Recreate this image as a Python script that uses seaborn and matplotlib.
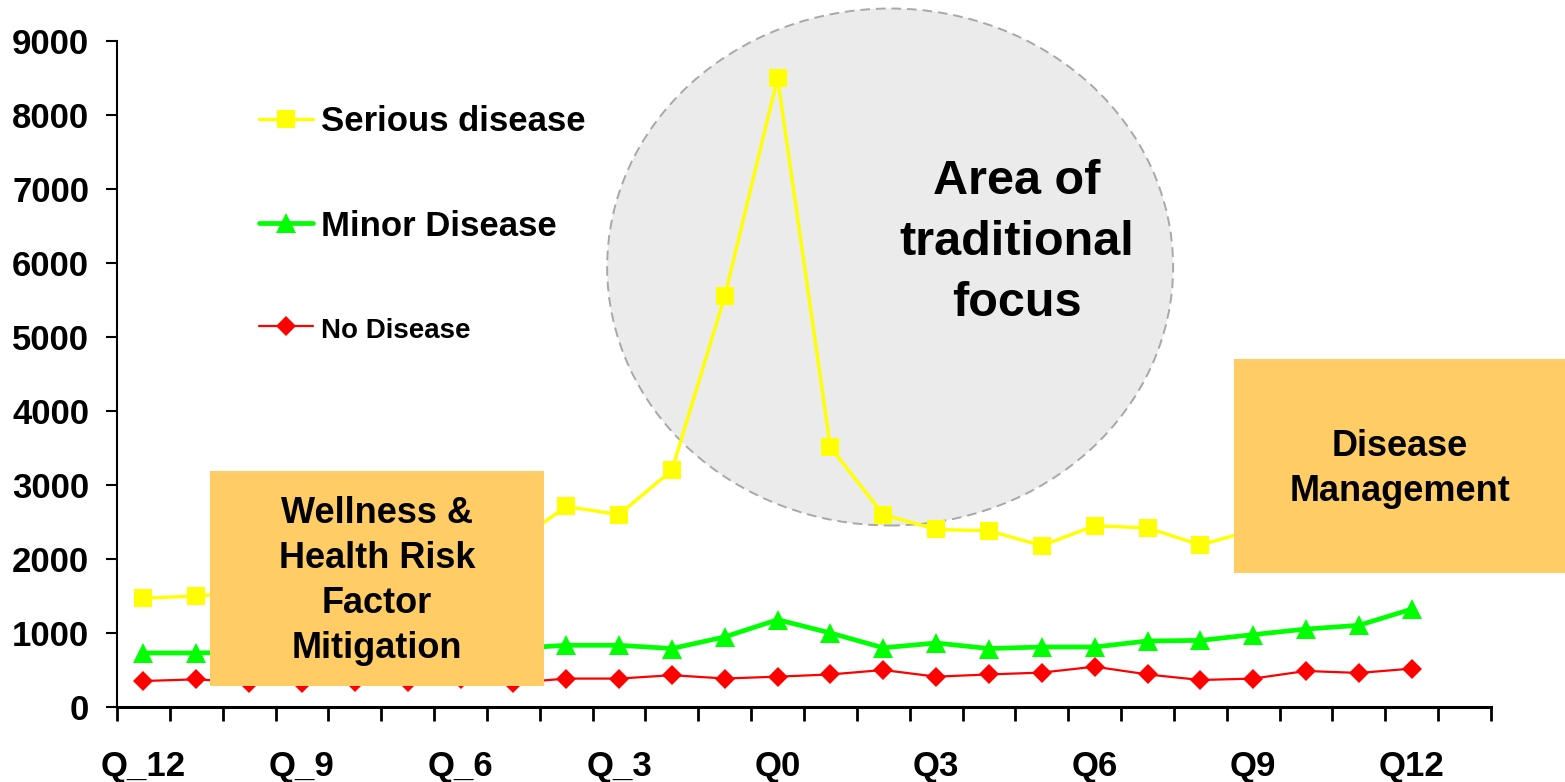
import matplotlib
matplotlib.use("Agg")
import matplotlib.pyplot as plt
from matplotlib.patches import Ellipse, Rectangle
import seaborn as sns
import pandas as pd

# Quarter labels around the index event (Q0)
quarters = ["Q_12", "Q_11", "Q_10", "Q_9", "Q_8", "Q_7", "Q_6", "Q_5", "Q_4",
            "Q_3", "Q_2", "Q_1", "Q0", "Q1", "Q2", "Q3", "Q4", "Q5", "Q6",
            "Q7", "Q8", "Q9", "Q10", "Q11", "Q12"]
tick_labels = ["Q_12", "Q_9", "Q_6", "Q_3", "Q0", "Q3", "Q6", "Q9", "Q12"]

serious = [1470, 1500, 1550, 1620, 1720, 1850, 2000, 2200, 2710, 2600, 3200,
           5550, 8500, 3510, 2600, 2400, 2380, 2180, 2450, 2420, 2190, 2390,
           2450, 2500, 2550]
minor = [730, 730, 740, 750, 760, 770, 780, 790, 834, 834, 790, 947, 1180,
         1000, 800, 865, 790, 811, 811, 892, 900, 978, 1053, 1104, 1323]
no_disease = [351, 374, 330, 320, 338, 340, 380, 325, 384, 384, 430, 385, 410,
              440, 500, 410, 440, 465, 545, 440, 365, 384, 487, 460, 519]

series_names = ["Serious disease", "Minor Disease", "No Disease"]

sns.set_style("white")
plt.rcParams["font.family"] = ["Liberation Sans", "DejaVu Sans"]
plt.rcParams["font.weight"] = "bold"
plt.rcParams["text.color"] = "black"
plt.rcParams["xtick.color"] = "black"
plt.rcParams["ytick.color"] = "black"
plt.rcParams["axes.labelcolor"] = "black"

W, H = 1565, 782
fig = plt.figure(figsize=(W / 100, H / 100), dpi=100)
ax = fig.add_axes([117 / W, 1 - 707 / H, (1491 - 117) / W, (707 - 41) / H])

idx = list(range(len(quarters)))
df = pd.DataFrame({"idx": idx, "serious": serious, "minor": minor,
                   "none": no_disease})

sns.lineplot(data=df, x="idx", y="serious", ax=ax, color="#FFFF00",
             marker="s", markersize=13, markeredgewidth=0, linewidth=2.4,
             label=series_names[0], zorder=4)
sns.lineplot(data=df, x="idx", y="minor", ax=ax, color="#00FF00",
             marker="^", markersize=14, markeredgewidth=0, linewidth=3.4,
             label=series_names[1], zorder=4)
sns.lineplot(data=df, x="idx", y="none", ax=ax, color="#FF0000",
             marker="D", markersize=10.5, markeredgewidth=0, linewidth=1.6,
             label=series_names[2], zorder=4)

ax.set_xlim(-0.5, len(quarters) + 0.5)
ax.set_ylim(0, 9000)
ax.set_xlabel("")
ax.set_ylabel("")

# Category labels every third quarter, tick marks between categories
ax.set_xticks([quarters.index(q) for q in tick_labels])
ax.set_xticklabels(tick_labels)
ax.set_xticks([i - 0.5 for i in range(len(quarters) + 2)], minor=True)
ax.tick_params(axis="x", which="major", length=0, pad=31, labelsize=25,
               labelcolor="black")
ax.tick_params(axis="x", which="minor", length=10, width=2, direction="out",
               color="black", bottom=True)
ax.set_yticks(range(0, 9001, 1000))
ax.tick_params(axis="y", length=8, width=1.5, direction="out", pad=12,
               labelsize=25, color="black", labelcolor="black", left=True)
for lab in ax.get_xticklabels() + ax.get_yticklabels():
    lab.set_fontweight("bold")

for side in ["top", "right"]:
    ax.spines[side].set_visible(False)
ax.spines["left"].set_color("black")
ax.spines["left"].set_linewidth(1.5)
ax.spines["bottom"].set_color("black")
ax.spines["bottom"].set_linewidth(2.2)
ax.grid(False)

# Highlighted region around the acute event
ell = Ellipse((14.13, 5946), width=10.71, height=6986, facecolor="#EBEBEB",
              edgecolor="#A8A8A8", linestyle=(0, (5, 3)), linewidth=1.4,
              zorder=2, clip_on=False)
ax.add_patch(ell)
ax.text(16.53, 6280, "Area of\ntraditional\nfocus", ha="center", va="center",
        fontsize=35, fontweight="bold", zorder=3, linespacing=1.45,
        color="black")

# Program boxes
box_color = "#FFCC66"
ax.add_artist(Rectangle((210 / W, 1 - 686 / H), 334 / W, 215 / H,
                        transform=fig.transFigure, facecolor=box_color,
                        edgecolor="none", zorder=6, clip_on=False))
ax.text(377 / W, 1 - 581 / H, "Wellness &\nHealth Risk\nFactor\nMitigation",
        transform=fig.transFigure, ha="center", va="center", fontsize=26,
        fontweight="bold", linespacing=1.37, zorder=7, color="black")
ax.add_artist(Rectangle((1234 / W, 1 - 573 / H), 331 / W, 214 / H,
                        transform=fig.transFigure, facecolor=box_color,
                        edgecolor="none", zorder=6, clip_on=False))
ax.text(1400 / W, 1 - 469 / H, "Disease\nManagement",
        transform=fig.transFigure, ha="center", va="center", fontsize=26,
        fontweight="bold", linespacing=1.37, zorder=7, color="black")

leg = ax.legend(loc="upper left", bbox_to_anchor=(242 / W, 1 - 88 / H),
                bbox_transform=fig.transFigure, frameon=False,
                prop={"size": 25, "weight": "bold"}, handlelength=1.55,
                handletextpad=0.22, labelspacing=2.05, borderpad=0)
leg.get_texts()[2].set_fontsize(20)
for t in leg.get_texts():
    t.set_color("black")
leg.set_zorder(5)

fig.savefig("out.png", dpi=100)
